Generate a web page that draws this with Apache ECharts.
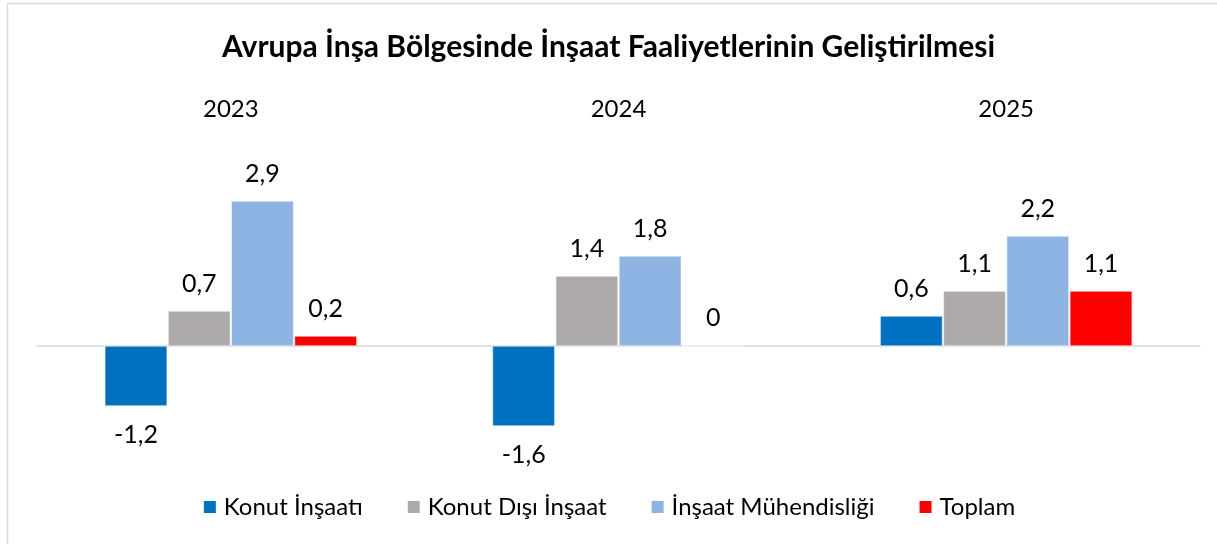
<!DOCTYPE html>
<html><head><meta charset="utf-8">
<script src="https://cdn.jsdelivr.net/npm/echarts@6/dist/echarts.min.js"></script>
<style>html,body{margin:0;padding:0;background:#fff}#c{width:1217px;height:544px}</style>
</head><body><div id="c"></div>
<script>
const title = 'Avrupa İnşa Bölgesinde İnşaat Faaliyetlerinin Geliştirilmesi';
const categories = ['2023', '2024', '2025'];
const seriesNames = ['Konut İnşaatı', 'Konut Dışı İnşaat', 'İnşaat Mühendisliği', 'Toplam'];
const konutInsaati = [-1.2, -1.6, 0.6];
const konutDisiInsaat = [0.7, 1.4, 1.1];
const insaatMuhendisligi = [2.9, 1.8, 2.2];
const toplam = [0.2, 0, 1.1];
const colors = ['#0070C0', '#AEAAAA', '#8DB4E2', '#FF0000'];

const FONT = 'Lato';
const allValues = [konutInsaati, konutDisiInsaat, insaatMuhendisligi, toplam];

function mkData(arr) {
  return arr.map(v => ({
    value: v,
    label: { position: v < 0 ? 'bottom' : 'top', distance: v < 0 ? 16 : 15 }
  }));
}

const chart = echarts.init(document.getElementById('c'), null, { renderer: 'canvas' });
chart.setOption({
  animation: false,
  backgroundColor: '#fff',
  color: colors,
  textStyle: { fontFamily: FONT },
  title: {
    text: title, left: 'center', top: 27,
    textStyle: { fontFamily: FONT, fontWeight: 'bold', fontSize: 30, color: '#000' }
  },
  graphic: [{
    type: 'rect', silent: true, z: -1,
    shape: { x: 7.5, y: 3.5, width: 1230, height: 600 },
    style: { fill: 'none', stroke: '#d9d9d9', lineWidth: 1.5 }
  }],
  legend: {
    bottom: 20, left: 'center', itemWidth: 14, itemHeight: 14, itemGap: 43,
    icon: 'rect',
    textStyle: { fontFamily: FONT, fontSize: 24, color: '#000', padding: [0, 0, 0, 2] },
    data: seriesNames
  },
  grid: { left: 37, right: 17, top: 121, height: 350, containLabel: false },
  xAxis: [{
    type: 'category', data: categories, position: 'bottom',
    axisLine: { onZero: true, lineStyle: { color: '#d9d9d9', width: 1.5 } },
    axisTick: { show: false }, axisLabel: { show: false }
  }, {
    type: 'category', data: categories, position: 'top',
    axisLine: { show: false }, axisTick: { show: false },
    axisLabel: { show: true, margin: 0, fontFamily: FONT, fontSize: 24, color: '#000' }
  }],
  yAxis: { type: 'value', min: -2.5, max: 4.5, show: false, splitLine: { show: false } },
  series: seriesNames.map((name, i) => ({
    name, type: 'bar', xAxisIndex: 0,
    barGap: '1.5%', barCategoryGap: '35%',
    itemStyle: { color: colors[i], borderColor: '#fff', borderWidth: 0.5 },
    label: {
      show: true, fontFamily: FONT, fontSize: 25, color: '#000',
      formatter: p => String(p.value).replace('.', ',')
    },
    data: mkData(allValues[i])
  }))
});
</script></body></html>
